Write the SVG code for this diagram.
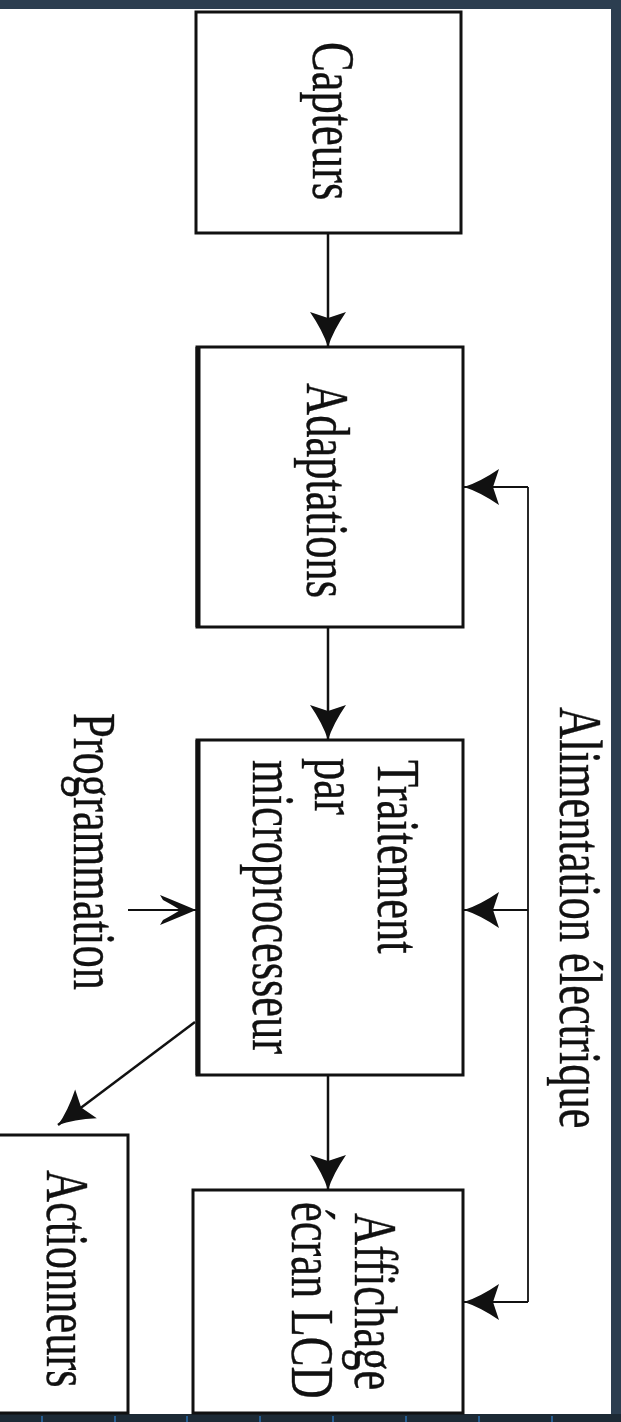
<svg xmlns="http://www.w3.org/2000/svg" width="621" height="1422" viewBox="0 0 621 1422">
<style>
.box{fill:#fff;stroke:#111;stroke-width:3}
.lbl{font-family:"Liberation Serif","Times New Roman",serif;font-size:61px;fill:#111;stroke:#111;stroke-width:0.4}
.wire{stroke:#111;stroke-width:2.5;fill:none}
.thin{stroke:#111;stroke-width:1.8;fill:none}
.tick{stroke:#2a6fb0;stroke-width:1.5}
</style>
<defs>
<marker id="ah" markerUnits="userSpaceOnUse" orient="auto" refX="0" refY="0" markerWidth="80" markerHeight="80" viewBox="-40 -40 80 80" overflow="visible">
<path d="M0,0 Q-16,-5 -35,-18 L-29,0 L-35,18 Q-16,5 0,0 Z" fill="#111"/>
</marker>
<marker id="ahs" markerUnits="userSpaceOnUse" orient="auto" refX="0" refY="0" markerWidth="80" markerHeight="80" viewBox="-40 -40 80 80" overflow="visible">
<path d="M0,0 Q-14,-6 -36,-15 L-33,-10 Q-20,-3 -16,0 Q-20,3 -33,10 L-36,15 Q-14,6 0,0 Z" fill="#111"/>
</marker>
</defs>
<rect x="0" y="0" width="621" height="1422" fill="#2c3e50"/>
<rect x="0" y="1414" width="621" height="8" fill="#1d2a35"/>
<rect x="0" y="9" width="611" height="1405" fill="#fff"/>
<g id="ticks">
<line class="tick" x1="42" y1="1416" x2="42" y2="1422"/>
<line class="tick" x1="115" y1="1416" x2="115" y2="1422"/>
<line class="tick" x1="187" y1="1416" x2="187" y2="1422"/>
<line class="tick" x1="260" y1="1416" x2="260" y2="1422"/>
<line class="tick" x1="333" y1="1416" x2="333" y2="1422"/>
<line class="tick" x1="406" y1="1416" x2="406" y2="1422"/>
<line class="tick" x1="479" y1="1416" x2="479" y2="1422"/>
<line class="tick" x1="552" y1="1416" x2="552" y2="1422"/>
</g>
<g id="connectors">
<path class="wire" d="M328,233 V347" marker-end="url(#ah)"/>
<path class="wire" d="M328,627 V740" marker-end="url(#ah)"/>
<path class="wire" d="M328,1075 V1190" marker-end="url(#ah)"/>
<path class="thin" d="M528,487 V1302"/>
<path class="thin" d="M528,487 H464" marker-end="url(#ah)"/>
<path class="thin" d="M528,910 H464" marker-end="url(#ah)"/>
<path class="thin" d="M528,1302 H464" marker-end="url(#ah)"/>
<path class="thin" d="M128,910 H196" marker-end="url(#ahs)"/>
<path class="wire" d="M195,1022 L58,1125" marker-end="url(#ah)"/>
</g>
<g id="capteurs">
<rect class="box" x="196" y="12" width="265" height="221"/>
<text class="lbl" transform="translate(313,42) rotate(90) scale(0.73,1)">Capteurs</text>
</g>
<g id="adaptations">
<rect class="box" x="197" y="347" width="266" height="280"/>
<line x1="198" y1="347" x2="198" y2="627" stroke="#111" stroke-width="5"/>
<text class="lbl" transform="translate(307,383) rotate(90) scale(0.73,1)">Adaptations</text>
</g>
<g id="traitement">
<rect class="box" x="197" y="740" width="266" height="335"/>
<line x1="198" y1="740" x2="198" y2="1075" stroke="#111" stroke-width="5"/>
<text class="lbl" transform="translate(378,760) rotate(90) scale(0.73,1)">Traitement</text>
<text class="lbl" transform="translate(315,758) rotate(90) scale(0.73,1)">par</text>
<text class="lbl" transform="translate(253,760) rotate(90) scale(0.73,1)">microprocesseur</text>
</g>
<g id="affichage">
<rect class="box" x="193" y="1190" width="270" height="223"/>
<text class="lbl" transform="translate(355,1213) rotate(90) scale(0.73,1)">Affichage</text>
<text class="lbl" transform="translate(292,1202) rotate(90) scale(0.73,1)">écran LCD</text>
</g>
<g id="actionneurs">
<rect class="box" x="-5" y="1135" width="133" height="278"/>
<text class="lbl" transform="translate(47,1170) rotate(90) scale(0.73,1)">Actionneurs</text>
</g>
<g id="alimentation">
<text class="lbl" transform="translate(560,707) rotate(90) scale(0.73,1)">Alimentation électrique</text>
</g>
<g id="programmation">
<text class="lbl" transform="translate(74,713) rotate(90) scale(0.73,1)">Programmation</text>
</g>
</svg>
